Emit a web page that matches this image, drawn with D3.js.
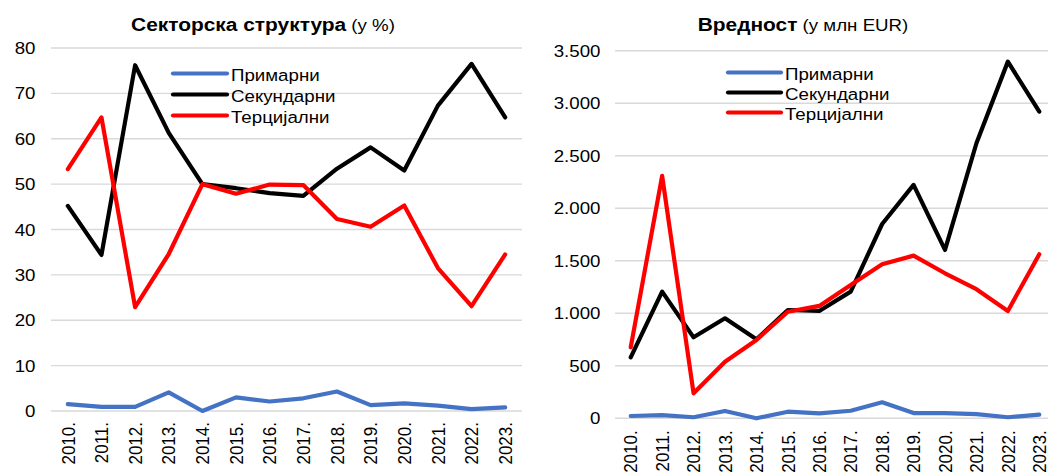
<!DOCTYPE html>
<html>
<head>
<meta charset="utf-8">
<script src="https://cdn.jsdelivr.net/npm/d3@7"></script>
<style>
  html, body { margin: 0; padding: 0; background: #fff; }
  svg { display: block; font-family: "Liberation Sans", Arial, sans-serif; }
</style>
</head>
<body>
<svg id="chart" width="1048" height="474"></svg>
<script>
const years = ["2010.", "2011.", "2012.", "2013.", "2014.", "2015.", "2016.", "2017.", "2018.", "2019.", "2020.", "2021.", "2022.", "2023."];
const seriesNames = ["Примарни", "Секундарни", "Терцијални"];
const seriesColors = ["#4472C4", "#000000", "#FF0000"];

// Left chart: sector structure (%)
const sharePrimary   = [1.5, 0.9, 0.9, 4.1, 0.0, 3.0, 2.1, 2.8, 4.3, 1.3, 1.7, 1.2, 0.4, 0.8];
const shareSecondary = [45.2, 34.4, 76.2, 61.3, 50.0, 49.1, 48.0, 47.4, 53.4, 58.1, 53.0, 67.3, 76.5, 64.7];
const shareTertiary  = [53.3, 64.7, 22.9, 34.6, 50.0, 47.9, 49.9, 49.8, 42.3, 40.6, 45.3, 31.5, 23.1, 34.5];
const leftTicks = [0, 10, 20, 30, 40, 50, 60, 70, 80];

// Right chart: value (mil EUR)
const valPrimary   = [22, 31, 10, 70, 0, 63, 47, 72, 152, 50, 50, 40, 10, 35];
const valSecondary = [580, 1206, 771, 952, 752, 1031, 1022, 1206, 1850, 2222, 1603, 2619, 3396, 2920];
const valTertiary  = [676, 2308, 238, 539, 746, 1015, 1070, 1270, 1467, 1549, 1381, 1229, 1022, 1562];
const rightTicks = [0, 500, 1000, 1500, 2000, 2500, 3000, 3500];
const rightTickLabels = ["0", "500", "1.000", "1.500", "2.000", "2.500", "3.000", "3.500"];

const SX = 1.1; // horizontal stretch of the source rendering
const svg = d3.select("#chart");

function drawPanel(cfg) {
  const g = svg.append("g");
  const x = d3.scalePoint().domain(years).range([cfg.x0, cfg.x1]).padding(0.5);
  const y = d3.scaleLinear().domain([0, cfg.max]).range([cfg.y0, cfg.y1]);

  // gridlines
  g.append("g").selectAll("line").data(cfg.ticks).join("line")
    .attr("x1", cfg.x0).attr("x2", cfg.gridEnd)
    .attr("y1", d => y(d)).attr("y2", d => y(d))
    .attr("stroke", "#d9d9d9").attr("stroke-width", 1.4);

  // y tick labels
  g.append("g").selectAll("text").data(cfg.ticks).join("text")
    .attr("transform", d => `translate(${cfg.tickX},${y(d)}) scale(${SX},1)`)
    .attr("dy", "0.36em")
    .attr("text-anchor", "end").attr("font-size", 17).attr("fill", "#000")
    .text((d, i) => cfg.tickLabels[i]);

  // x labels
  g.append("g").selectAll("text").data(years).join("text")
    .attr("transform", d => `translate(${x(d)},${cfg.y0 + cfg.xLabelGap}) rotate(-90) scale(1,${SX})`)
    .attr("dy", "0.36em").attr("text-anchor", "end")
    .attr("font-size", 17).attr("fill", "#000")
    .text(d => d);

  // lines
  const line = d3.line().x((d, i) => x(years[i])).y(d => y(d));
  cfg.series.forEach((s, k) => {
    g.append("path").datum(s)
      .attr("d", line)
      .attr("fill", "none").attr("stroke", seriesColors[k])
      .attr("stroke-width", 4.2).attr("stroke-linejoin", "round").attr("stroke-linecap", "round");
  });

  // title
  const t = g.append("text")
    .attr("transform", `translate(${cfg.titleX},31) scale(${SX},1)`)
    .attr("text-anchor", "middle").attr("fill", "#000");
  t.append("tspan").attr("font-weight", "bold").attr("font-size", 19).text(cfg.titleBold);
  t.append("tspan").attr("font-size", 17).text(cfg.titleRest);

  // legend
  seriesNames.forEach((n, k) => {
    const ly = cfg.legY + k * cfg.legStep;
    g.append("line").attr("x1", cfg.legX).attr("x2", cfg.legX + cfg.legLen)
      .attr("y1", ly).attr("y2", ly).attr("stroke", seriesColors[k])
      .attr("stroke-width", 4.2).attr("stroke-linecap", "round");
    g.append("text")
      .attr("transform", `translate(${cfg.legX + cfg.legLen + 4},${ly + 7.5}) scale(${SX},1)`)
      .attr("font-size", 17).attr("fill", "#000").text(n);
  });
}

drawPanel({
  x0: 51, x1: 522, gridEnd: 522, y0: 411, y1: 48, max: 80,
  ticks: leftTicks, tickLabels: leftTicks.map(String), tickX: 35.5, xLabelGap: 11,
  series: [sharePrimary, shareSecondary, shareTertiary],
  titleX: 263, titleBold: "Секторска структура", titleRest: " (у %)",
  legX: 173, legLen: 54, legY: 73.5, legStep: 21
});

drawPanel({
  x0: 615, x1: 1055, gridEnd: 1048, y0: 418.3, y1: 50.7, max: 3500,
  ticks: rightTicks, tickLabels: rightTickLabels, tickX: 600.5, xLabelGap: 12,
  series: [valPrimary, valSecondary, valTertiary],
  titleX: 803, titleBold: "Вредност", titleRest: " (у млн EUR)",
  legX: 728, legLen: 53, legY: 72.5, legStep: 20
});
</script>
</body>
</html>
